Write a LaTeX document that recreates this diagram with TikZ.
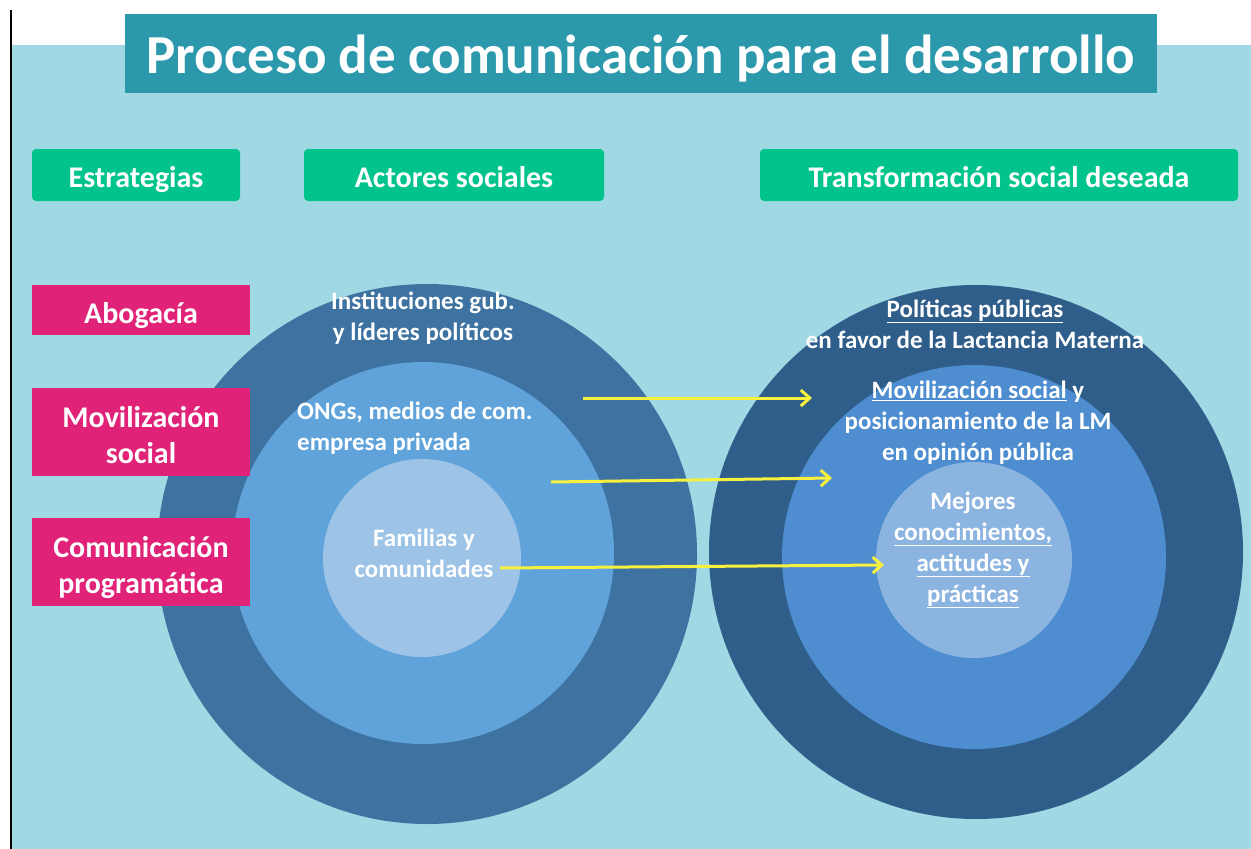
\documentclass[tikz,border=0pt]{standalone}
\usepackage{fontspec}
\setmainfont{Carlito}
\usepackage{tikz}
\usetikzlibrary{arrows.meta,positioning}
\definecolor{bgblue}{HTML}{A0D9E4}
\definecolor{titleblue}{HTML}{2B98AB}
\definecolor{headgreen}{HTML}{00C48C}
\definecolor{stratpink}{HTML}{E02378}
\definecolor{louter}{HTML}{3E72A0}
\definecolor{lmid}{HTML}{5FA3DA}
\definecolor{linner}{HTML}{9DC3E7}
\definecolor{router}{HTML}{2F5E8B}
\definecolor{rmid}{HTML}{4E8ED0}
\definecolor{rinner}{HTML}{8CB4E1}
\definecolor{arrowyellow}{HTML}{F7F03C}
\tikzstyle{header} = [rectangle, fill=headgreen, text=white, rounded corners=4pt,
    minimum height=52pt, inner sep=0pt, text height=28pt, text depth=4pt,
    font=\fontsize{30}{36}\selectfont\bfseries]
\tikzstyle{strategy} = [rectangle, fill=stratpink, text=white, minimum width=218pt,
    inner sep=0pt, align=center, text depth=4pt, font=\fontsize{30}{36}\selectfont\bfseries]
\tikzstyle{ring} = [circle, inner sep=0pt]
\tikzstyle{label} = [text=white, align=center, inner sep=0pt,
    font=\fontsize{25}{31}\selectfont\bfseries]
\tikzstyle{line} = [draw=arrowyellow, line width=3pt,
    -{Straight Barb[length=9pt,width=16pt,line width=3pt]}]

\begin{document}
\begin{tikzpicture}[x=1pt,y=-1pt]
        \useasboundingbox (0,0) rectangle (1251,849);
        % Background
        \fill[bgblue] (12,45) rectangle (1251,849);
        \draw[black, line width=1.5pt] (11,10) -- (11,849);
        % Title
        \node [rectangle, fill=titleblue, text=white, minimum width=1032pt, minimum height=79pt,
            inner sep=0pt, text height=45pt, text depth=6pt,
            font=\fontsize{55}{60}\selectfont\bfseries] (title) at (641,53.5)
            {Proceso de comunicación para el desarrollo};
        % Headers
        \node [header, minimum width=208pt] (Estr) at (136,175) {Estrategias};
        \node [header, minimum width=300pt] (Actor) at (454,175) {Actores sociales};
        \node [header, minimum width=478pt] (Transf) at (999,175) {Transformación social deseada};
        % Circles
        \node [ring, fill=louter, minimum size=540pt] (LOut) at (427,554) {};
        \node [ring, fill=lmid, minimum size=382pt] (LMid) at (423,553) {};
        \node [ring, fill=linner, minimum size=198pt] (LIn) at (422,558) {};
        \node [ring, fill=router, minimum size=534pt] (ROut) at (976,552) {};
        \node [ring, fill=rmid, minimum size=384pt] (RMid) at (974,557) {};
        \node [ring, fill=rinner, minimum size=196pt] (RIn) at (974,560) {};
        % Strategies
        \node [strategy, minimum height=50pt, text height=30pt] (Abog) at (141,310) {Abogacía};
        \node [strategy, minimum height=88pt, text height=66pt] (Movil) at (141,432) {Movilización\\social};
        \node [strategy, minimum height=88pt, text height=66pt] (Comun) at (141,562) {Comunicación\\programática};
        % Actors
        \node [label] (Inst) at (423,318) {Instituciones gub.\\y líderes políticos};
        \node [label, align=left, anchor=west] (ONG) at (297,428) {ONGs, medios de com.\\empresa privada};
        \node [label] (Fam) at (424,553) {Familias y\\comunidades};
        % Outcomes
        \node [label] (Pol) at (975,324) {\underline{Políticas públicas}\\en favor de la Lactancia Materna};
        \node [label] (MovS) at (978,423) {\underline{Movilización social} y\\posicionamiento de la LM\\en opinión pública};
        \node [label] (Mej) at (973,550) {Mejores\\\underline{conocimientos,}\\\underline{actitudes y}\\\underline{prácticas}};
        % Arrows
        \coordinate (a1s) at (583,398);
        \coordinate (a1e) at (812,398);
        \coordinate (a2s) at (551,482);
        \coordinate (a2e) at (832,478);
        \coordinate (a3s) at (500,568);
        \coordinate (a3e) at (884,565);
        \path [line] (a1s) -- (a1e);
        \path [line] (a2s) -- (a2e);
        \path [line] (a3s) -- (a3e);
    \end{tikzpicture}
\end{document}
